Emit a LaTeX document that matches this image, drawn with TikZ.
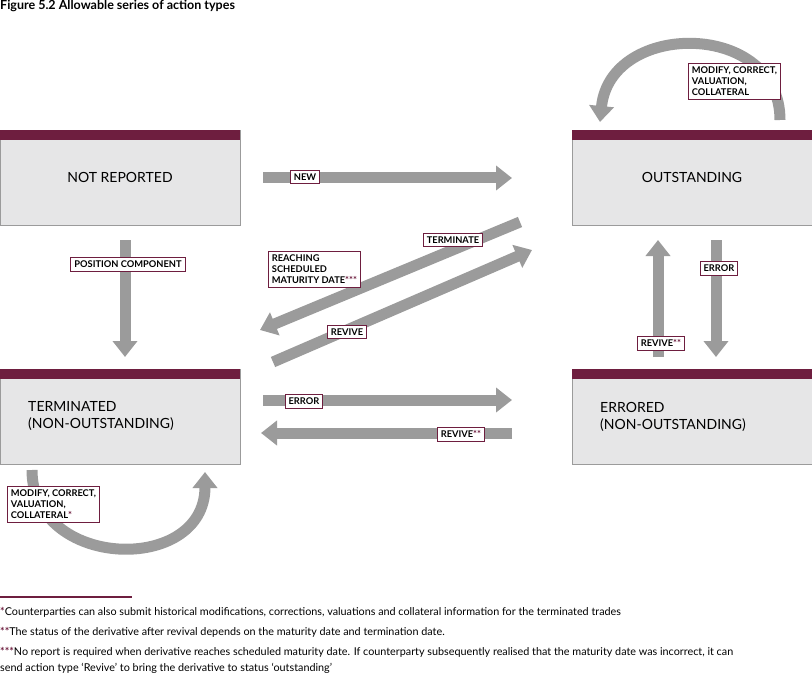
\documentclass[tikz,border=0pt]{standalone}
\usepackage{fontspec}
\setmainfont{Lato}
\usetikzlibrary{arrows.meta}
\definecolor{maroon}{HTML}{6E1E3F}
\definecolor{boxg}{HTML}{E6E6E7}
\definecolor{arrg}{HTML}{9B9B9B}
\newcommand{\mstar}[1]{\textcolor{maroon}{\bfseries #1}}
\begin{document}
\begin{tikzpicture}[x=1pt,y=-1pt,
  st/.style={draw=arrg,fill=boxg,line width=0.8pt,minimum width=240pt,minimum height=95pt,font=\fontsize{14}{17}\selectfont,inner sep=0pt},
  ar/.style={draw=arrg,line width=11pt,-{Triangle[width=24pt,length=16pt]}},
  lb/.style={draw=maroon,fill=white,line width=0.8pt,font=\fontsize{9.3}{11}\selectfont\bfseries,inner sep=3.5pt,align=left},
  ft/.style={anchor=west,font=\fontsize{10.8}{13}\selectfont,inner sep=0pt}]
\useasboundingbox (0,0) rectangle (812,682);
\node[anchor=north west,font=\fontsize{12.5}{14}\selectfont\bfseries,inner sep=0pt] (title) at (0,0) {Figure 5.2 Allowable series of action types};
% states
\node[st] (nr) at (120,177.5) {NOT REPORTED};
\node[st] (out) at (692,177.5) {OUTSTANDING};
\node[st,align=left] (term) at (120,416.5) {\hspace*{-38pt}TERMINATED\\\hspace*{-38pt}(NON-OUTSTANDING)};
\node[st,align=left] (err) at (692,416.5) {\hspace*{-38pt}ERRORED\\\hspace*{-38pt}(NON-OUTSTANDING)};
\foreach \n in {nr,out,term,err}{\fill[maroon] (\n.north west) rectangle ([yshift=-10pt]\n.north east);}
% coordinates
\coordinate (a1) at (263,178); \coordinate (a2) at (512,178);
\coordinate (b1) at (125,240); \coordinate (b2) at (125,357);
\coordinate (c1) at (520,222); \coordinate (c2) at (260,330);
\coordinate (d1) at (273,362); \coordinate (d2) at (532,250);
\coordinate (e1) at (263,400); \coordinate (e2) at (512,400);
\coordinate (f1) at (512,433); \coordinate (f2) at (261,433);
\coordinate (g1) at (658,357); \coordinate (g2) at (658,240);
\coordinate (h1) at (716,240); \coordinate (h2) at (716,357);
\coordinate (i1) at (780,120); \coordinate (i2) at (600,122);
\coordinate (j1) at (32,470); \coordinate (j2) at (205,472);
\draw[ar] (a1) -- (a2);
\draw[ar] (b1) -- (b2);
\draw[ar] (c1) -- (c2);
\draw[ar] (d1) -- (d2);
\draw[ar] (e1) -- (e2);
\draw[ar] (f1) -- (f2);
\draw[ar] (g1) -- (g2);
\draw[ar] (h1) -- (h2);
\draw[ar] (i1) .. controls (780,20) and (610,20) .. (i2);
\draw[ar] (j1) .. controls (32,570) and (205,575) .. (j2);
% labels
\node[lb] (lnew) at (305,177) {NEW};
\node[lb] (lpos) at (128,264) {POSITION COMPONENT};
\node[lb] (lterm) at (453,240) {TERMINATE};
\node[lb,anchor=north west] (lreach) at (268,251) {REACHING\\SCHEDULED\\MATURITY DATE\mstar{***}};
\node[lb] (lrev) at (347,332) {REVIVE};
\node[lb] (lerr) at (304,401) {ERROR};
\node[lb] (lrev2) at (461,434) {REVIVE\mstar{**}};
\node[lb] (lerr2) at (719,268) {ERROR};
\node[lb] (lrev3) at (661,343) {REVIVE\mstar{**}};
\node[lb,anchor=north west] (lmod1) at (688,63) {MODIFY, CORRECT,\\VALUATION,\\COLLATERAL};
\node[lb,anchor=north west] (lmod2) at (7,486) {MODIFY, CORRECT,\\VALUATION,\\COLLATERAL\mstar{*}};
% footnotes
\draw[maroon,line width=1.2pt] (0,597) -- (132,597);
\node[ft] (f1t) at (0,612) {\mstar{*}Counterparties can also submit historical modifications, corrections, valuations and collateral information for the terminated trades};
\node[ft] (f2t) at (0,632) {\mstar{**}The status of the derivative after revival depends on the maturity date and termination date.};
\node[ft] (f3t) at (0,652) {\mstar{***}No report is required when derivative reaches scheduled maturity date. If counterparty subsequently realised that the maturity date was incorrect, it can};
\node[ft] (f4t) at (0,668) {send action type ‘Revive’ to bring the derivative to status ‘outstanding’};
\end{tikzpicture}
\end{document}
